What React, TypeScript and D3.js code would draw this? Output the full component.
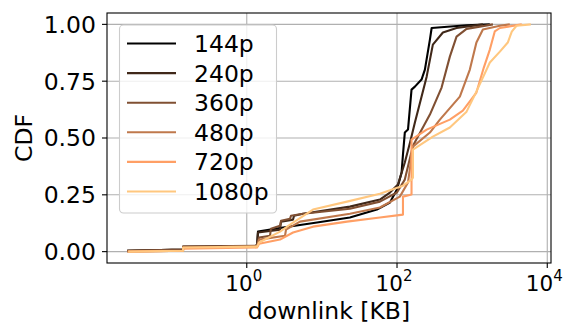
import React from "react";
import * as d3 from "d3";

// resolutions shown in the legend
const categories = ["144p", "240p", "360p", "480p", "720p", "1080p"];

// downlink size [KB] and CDF, one pair per resolution
const kb144 = [0.0256, 0.142, 0.142, 1.37, 1.41, 3.04, 8.61, 23.6, 54.0, 80.5, 99.7, 115, 120, 127, 140, 156, 173, 212, 235, 274, 289, 843, 1720];
const cdf144 = [0.004, 0.009, 0.018, 0.026, 0.088, 0.106, 0.128, 0.15, 0.185, 0.216, 0.273, 0.348, 0.427, 0.524, 0.537, 0.713, 0.726, 0.757, 0.801, 0.933, 0.984, 0.996, 1.0];

const kb240 = [0.0256, 0.142, 0.142, 1.37, 1.41, 2.77, 2.86, 4.13, 4.26, 5.61, 23.6, 59.2, 80.5, 103, 127, 149, 173, 212, 248, 300, 408, 620, 1390];
const cdf240 = [0.004, 0.009, 0.022, 0.026, 0.084, 0.097, 0.132, 0.141, 0.158, 0.167, 0.198, 0.229, 0.26, 0.295, 0.392, 0.48, 0.568, 0.682, 0.77, 0.911, 0.964, 0.984, 1.0];

const kb360 = [0.0256, 0.142, 0.142, 1.37, 1.46, 2.04, 2.1, 2.77, 2.86, 3.77, 3.88, 5.61, 23.6, 59.2, 99.7, 127, 163, 274, 392, 505, 620, 843, 1890];
const cdf360 = [0.004, 0.009, 0.022, 0.026, 0.062, 0.07, 0.101, 0.114, 0.136, 0.145, 0.158, 0.167, 0.189, 0.22, 0.26, 0.317, 0.466, 0.603, 0.722, 0.858, 0.946, 0.98, 1.0];

const kb480 = [0.0256, 0.142, 0.142, 1.37, 1.46, 3.23, 3.33, 5.11, 23.6, 59.2, 109, 140, 163, 274, 372, 686, 932, 1140, 1390, 2340, 3170];
const cdf480 = [0.0, 0.004, 0.018, 0.022, 0.053, 0.07, 0.097, 0.132, 0.167, 0.194, 0.242, 0.304, 0.462, 0.524, 0.581, 0.682, 0.801, 0.92, 0.977, 0.994, 1.0];

const kb720 = [0.0264, 0.142, 0.142, 1.37, 1.46, 2.77, 4.13, 7.61, 21.6, 59.2, 120, 120, 156, 156, 248, 505, 752, 1140, 1430, 1720, 2000, 2340, 4580];
const cdf720 = [0.0, 0.004, 0.013, 0.018, 0.035, 0.053, 0.084, 0.11, 0.132, 0.15, 0.163, 0.242, 0.251, 0.493, 0.537, 0.581, 0.62, 0.7, 0.81, 0.889, 0.969, 0.984, 1.0];

const kb1080 = [0.0264, 0.142, 0.142, 1.37, 1.46, 2.77, 4.13, 7.61, 21.6, 59.2, 120, 156, 163, 163, 300, 505, 843, 1090, 1350, 1720, 2340, 2980, 3370, 3890, 6040];
const cdf1080 = [0.0, 0.004, 0.018, 0.022, 0.04, 0.088, 0.128, 0.185, 0.22, 0.255, 0.29, 0.317, 0.326, 0.449, 0.506, 0.546, 0.616, 0.691, 0.757, 0.832, 0.88, 0.92, 0.968, 0.994, 1.0];

const xTicks = [1, 100, 10000];
const xTickExponents = ["0", "2", "4"];
const yTicks = [0, 0.25, 0.5, 0.75, 1.0];
const yTickLabels = ["0.00", "0.25", "0.50", "0.75", "1.00"];

const W = 565;
const H = 324;
const margin = { top: 13, right: 14, bottom: 61, left: 107 };
const FONT = "DejaVu Sans";
const FS = 23.5;

// matplotlib "copper" colormap sampled at 0, 0.2, ... 1
const copper = (t: number) =>
  d3.rgb(Math.min(1, 1.25 * t) * 255, 0.7812 * t * 255, 0.4975 * t * 255).formatHex();

export default function App() {
  const xs = [kb144, kb240, kb360, kb480, kb720, kb1080];
  const ys = [cdf144, cdf240, cdf360, cdf480, cdf720, cdf1080];
  const series = categories.map((name, i) => ({
    name,
    color: copper(i / (categories.length - 1)),
    points: xs[i].map((x, j) => [x, ys[i][j]] as [number, number]),
  }));

  // log axis with matplotlib's 5% margin in log space
  const allX = xs.flat();
  const lo = Math.log10(d3.min(allX)!);
  const hi = Math.log10(d3.max(allX)!);
  const pad = (hi - lo) * 0.05;

  const x = d3
    .scaleLog()
    .domain([10 ** (lo - pad), 10 ** (hi + pad)])
    .range([margin.left, W - margin.right]);
  const y = d3
    .scaleLinear()
    .domain([-0.05, 1.05])
    .range([H - margin.bottom, margin.top]);

  const line = d3
    .line<[number, number]>()
    .x((d) => x(d[0]))
    .y((d) => y(d[1]));

  const x0 = margin.left;
  const x1 = W - margin.right;
  const y0 = H - margin.bottom;
  const y1 = margin.top;

  // legend layout
  const lg = { x: 119.5, y: 25, w: 157, h: 188, row0: 43.5, step: 29.6 };

  return (
    <svg
      width={W}
      height={H}
      style={{ position: "absolute", left: 0, top: 0, background: "#fff" }}
      fontFamily={FONT}
    >
      <defs>
        <clipPath id="plot">
          <rect x={x0} y={y1} width={x1 - x0} height={y0 - y1} />
        </clipPath>
      </defs>

      {/* grid */}
      <g stroke="#b0b0b0" strokeWidth={1.1}>
        {xTicks.map((t) => (
          <line key={"gx" + t} x1={x(t)} x2={x(t)} y1={y1} y2={y0} />
        ))}
        {yTicks.map((t) => (
          <line key={"gy" + t} x1={x0} x2={x1} y1={y(t)} y2={y(t)} />
        ))}
      </g>

      {/* CDF curves */}
      <g clipPath="url(#plot)" fill="none" strokeWidth={2.1} strokeLinejoin="round">
        {series.map((s) => (
          <path key={s.name} d={line(s.points) ?? ""} stroke={s.color} />
        ))}
      </g>

      {/* spines */}
      <rect x={x0} y={y1} width={x1 - x0} height={y0 - y1} fill="none" stroke="#000" strokeWidth={1.1} />

      {/* y ticks */}
      {yTicks.map((t, i) => (
        <g key={"yt" + t}>
          <line x1={x0 - 5} x2={x0} y1={y(t)} y2={y(t)} stroke="#000" strokeWidth={1.1} />
          <text x={x0 - 11} y={y(t)} dy="0.36em" textAnchor="end" fontSize={FS}>
            {yTickLabels[i]}
          </text>
        </g>
      ))}

      {/* x ticks */}
      {xTicks.map((t, i) => (
        <g key={"xt" + t}>
          <line x1={x(t)} x2={x(t)} y1={y0} y2={y0 + 5} stroke="#000" strokeWidth={1.1} />
          <text x={x(t) - 3} y={y0 + 28} textAnchor="middle" fontSize={21.5}>
            10
            <tspan dy={-10} fontSize={15}>
              {xTickExponents[i]}
            </tspan>
          </text>
        </g>
      ))}

      {/* axis labels */}
      <text x={(x0 + x1) / 2} y={319} textAnchor="middle" fontSize={FS}>
        downlink [KB]
      </text>
      <text
        transform={`translate(32,${(y0 + y1) / 2}) rotate(-90)`}
        textAnchor="middle"
        fontSize={FS}
      >
        CDF
      </text>

      {/* legend */}
      <rect
        x={lg.x}
        y={lg.y}
        width={lg.w}
        height={lg.h}
        rx={4}
        fill="#fff"
        fillOpacity={0.8}
        stroke="#cccccc"
        strokeWidth={1.1}
      />
      {series.map((s, i) => {
        const ry = lg.row0 + i * lg.step;
        return (
          <g key={"lg" + s.name}>
            <line x1={127} x2={176} y1={ry} y2={ry} stroke={s.color} strokeWidth={2.1} />
            <text x={194} y={ry} dy="0.36em" fontSize={FS}>
              {s.name}
            </text>
          </g>
        );
      })}
    </svg>
  );
}
